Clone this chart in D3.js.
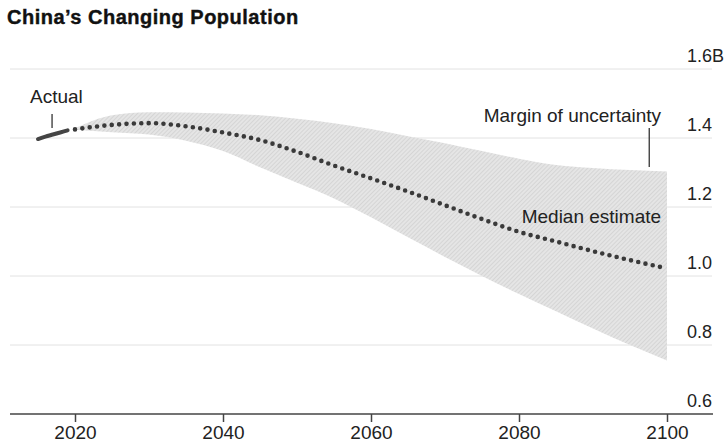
<!DOCTYPE html>
<html>
<head>
<meta charset="utf-8">
<script src="https://cdn.jsdelivr.net/npm/d3@7"></script>
<style>
	body { margin: 0; background: #fff; }
	svg { display: block; font-family: "Liberation Sans", Arial, sans-serif; }
</style>
</head>
<body>
<div id="chart"></div>
<script>
//projection years and values, billions
var projYears = [2020, 2025, 2030, 2035, 2040, 2045, 2050, 2055, 2060, 2065, 2070, 2075, 2080, 2085, 2090, 2095, 2100];
var medianPop = [1.425, 1.438, 1.443, 1.434, 1.416, 1.394, 1.360, 1.320, 1.283, 1.245, 1.205, 1.165, 1.128, 1.100, 1.072, 1.046, 1.022];
var upperPop  = [1.428, 1.466, 1.475, 1.474, 1.471, 1.466, 1.456, 1.443, 1.426, 1.405, 1.385, 1.362, 1.340, 1.322, 1.313, 1.307, 1.303];
var lowerPop  = [1.424, 1.417, 1.410, 1.392, 1.362, 1.315, 1.270, 1.225, 1.170, 1.112, 1.055, 1.000, 0.948, 0.898, 0.848, 0.800, 0.755];

//actual population
var actualYears = [2015, 2016, 2017, 2018, 2019];
var actualPop = [1.397, 1.404, 1.410, 1.416, 1.422];

var xTicks = [2020, 2040, 2060, 2080, 2100];
var yTicks = [0.6, 0.8, 1.0, 1.2, 1.4, 1.6];

var width = 726;
var height = 446;

var svg = d3.select("#chart").append("svg")
	.attr("width", width)
	.attr("height", height);

var x = d3.scaleLinear().domain([2020, 2100]).range([75, 667]);
var y = d3.scaleLinear().domain([0.6, 1.6]).range([414, 69]);

//hatch for the uncertainty band
var defs = svg.append("defs");
var pat = defs.append("pattern")
	.attr("id", "hatch")
	.attr("patternUnits", "userSpaceOnUse")
	.attr("width", 3)
	.attr("height", 3)
	.attr("patternTransform", "rotate(45)");
pat.append("rect").attr("width", 3).attr("height", 3).attr("fill", "#e5e5e5");
pat.append("line")
	.attr("x1", 0).attr("y1", 0).attr("x2", 0).attr("y2", 3)
	.attr("stroke", "#cbcbcb")
	.attr("stroke-width", 1.2);

//title
svg.append("text")
	.attr("x", 7)
	.attr("y", 24)
	.attr("font-size", 20)
	.attr("font-weight", "bold")
	.attr("letter-spacing", 0.5)
	.attr("fill", "#111")
	.attr("stroke", "#111")
	.attr("stroke-width", 0.4)
	.text("China\u2019s Changing Population");

//gridlines + right labels
var grid = svg.append("g");
yTicks.forEach(function(t)
{
	if(t > 0.6)
	{
		grid.append("line")
			.attr("x1", 10)
			.attr("x2", 712)
			.attr("y1", y(t))
			.attr("y2", y(t))
			.attr("stroke", "#e2e2e2")
			.attr("stroke-width", 1);
	}
	grid.append("text")
		.attr("x", 687)
		.attr("y", y(t) - 7)
		.attr("font-size", 18)
		.attr("fill", "#222")
		.text(t == 1.6 ? "1.6B" : d3.format(".1f")(t));
});

//band
var bandData = projYears.map(function(yr, i)
{
	return {year: yr, lo: lowerPop[i], hi: upperPop[i]};
});

var area = d3.area()
	.x(function(d){ return x(d.year); })
	.y0(function(d){ return y(d.lo); })
	.y1(function(d){ return y(d.hi); })
	.curve(d3.curveMonotoneX);

svg.append("path")
	.datum(bandData)
	.attr("d", area)
	.attr("fill", "url(#hatch)");

//actual line
var line = d3.line()
	.x(function(d){ return x(d[0]); })
	.y(function(d){ return y(d[1]); })
	.curve(d3.curveMonotoneX);

svg.append("path")
	.datum(actualYears.map(function(yr, i){ return [yr, actualPop[i]]; }))
	.attr("d", line)
	.attr("fill", "none")
	.attr("stroke", "#444")
	.attr("stroke-width", 4)
	.attr("stroke-linecap", "round");

//median dotted
svg.append("path")
	.datum(projYears.map(function(yr, i){ return [yr, medianPop[i]]; }))
	.attr("d", line)
	.attr("fill", "none")
	.attr("stroke", "#3a3a3a")
	.attr("stroke-width", 4.6)
	.attr("stroke-linecap", "round")
	.attr("stroke-dasharray", "0 7.4");

//x axis
var xAxis = d3.axisBottom(x)
	.tickValues(xTicks)
	.tickFormat(d3.format("d"))
	.tickSize(8)
	.tickPadding(4);

var gx = svg.append("g")
	.attr("transform", "translate(0," + y(0.6) + ")")
	.call(xAxis);
gx.select(".domain").remove();
gx.selectAll(".tick line").attr("stroke", "#444").attr("stroke-width", 1.5);
gx.selectAll(".tick text")
	.attr("font-size", 19)
	.attr("font-family", "Liberation Sans, Arial, sans-serif")
	.attr("fill", "#222");
gx.append("line")
	.attr("x1", 10)
	.attr("x2", 713)
	.attr("stroke", "#444")
	.attr("stroke-width", 1.5);

//annotations
var note = svg.append("g")
	.attr("font-size", 19)
	.attr("fill", "#222");

note.append("text")
	.attr("x", 30)
	.attr("y", 103)
	.text("Actual");
note.append("line")
	.attr("x1", x(2016.9)).attr("x2", x(2016.9))
	.attr("y1", 114).attr("y2", 128)
	.attr("stroke", "#333").attr("stroke-width", 1.3);

note.append("text")
	.attr("x", x(2099.2))
	.attr("y", 122)
	.attr("text-anchor", "end")
	.text("Margin of uncertainty");
note.append("line")
	.attr("x1", x(2097.6)).attr("x2", x(2097.6))
	.attr("y1", 128).attr("y2", 167)
	.attr("stroke", "#333").attr("stroke-width", 1.3);

note.append("text")
	.attr("x", x(2099.2))
	.attr("y", 223)
	.attr("text-anchor", "end")
	.text("Median estimate");
</script>
</body>
</html>
